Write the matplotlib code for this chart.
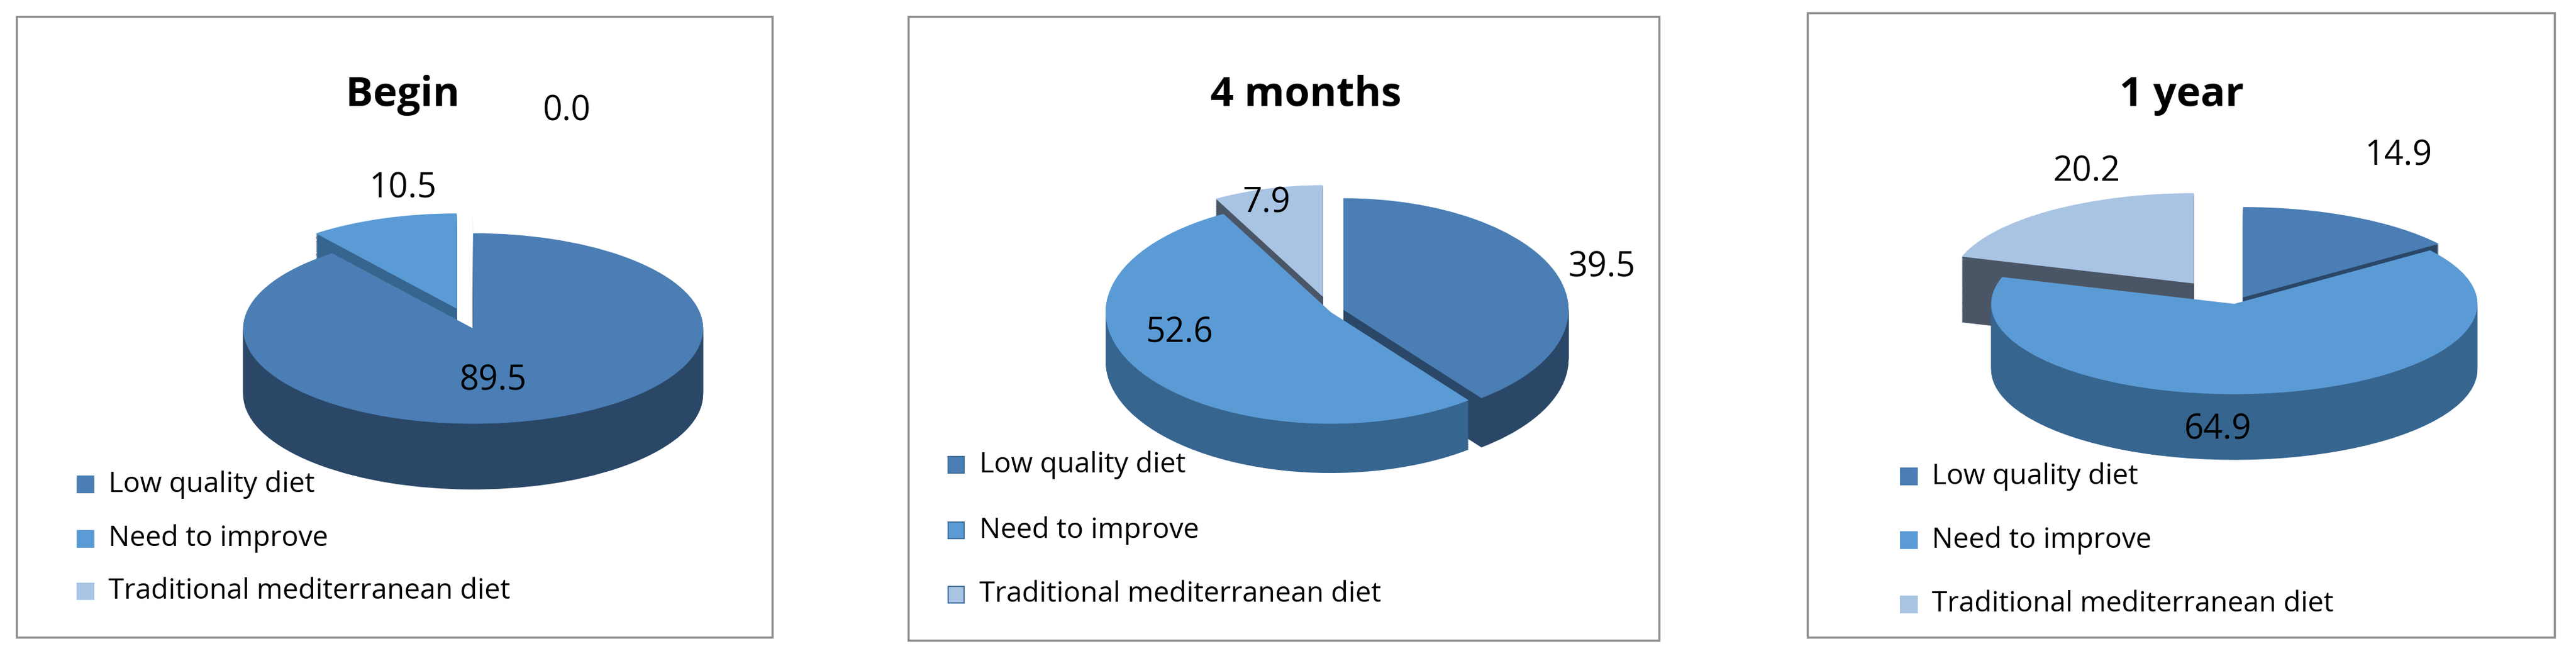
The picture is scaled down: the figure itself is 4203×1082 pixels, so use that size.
import matplotlib
matplotlib.use("Agg")
import matplotlib.pyplot as plt
from matplotlib.transforms import Affine2D
from matplotlib.patches import Rectangle

categories = ["Low quality diet", "Need to improve", "Traditional mediterranean diet"]
titles = ["Begin", "4 months", "1 year"]
values_begin = [89.5, 10.5, 0.0]
values_4m = [39.5, 52.6, 7.9]
values_1y = [14.9, 64.9, 20.2]
all_values = [values_begin, values_4m, values_1y]

top_colors = ["#4A7EB4", "#5B9BD5", "#A9C3E3"]
side_colors = ["#2A4767", "#36658F", "#4A5566"]

S = 4203 / 1568.0
fig = plt.figure(figsize=(42.03, 10.82), dpi=100)
FW, FH = 1568.0, 1082 / S

boxes = [(10, 10, 470, 388), (553, 10, 1010, 390), (1100, 8, 1555, 388)]
pies = [  # cx, cy, rx, ry, depth, explode (fraction of radius)
    (288, 200, 140, 58, 40, [0, 0.22, 0.25]),
    (810, 190, 137, 68, 30, [0.06, 0.0, 0.14]),
    (1360, 185, 148, 55, 40, [0.08, 0.0, 0.28]),
]
label_pos = [
    [(300, 232), (245, 115), (345, 68)],
    [(975, 163), (718, 203), (771, 124)],
    [(1460, 95), (1350, 262), (1270, 105)],
]
title_pos = [(245, 58), (795, 58), (1328, 58)]
legend_pos = [(52, [295, 328, 360]), (582, [283, 323, 362]), (1162, [290, 329, 368])]

ax = fig.add_axes([0, 0, 1, 1])
font = "Open Sans"
for p in range(3):
    l, t, r, b = boxes[p]
    ax.add_patch(Rectangle((l, t), r - l, b - t, fill=False, edgecolor="#8C8C8C", lw=2.5))
    cx, cy, rx, ry, depth, explode = pies[p]
    vals = all_values[p]
    k = ry / rx
    nsteps = 50
    for i in range(nsteps, -1, -1):
        off = depth * i / nsteps
        cols = side_colors if i > 0 else top_colors
        tr = Affine2D().scale(1, -k).translate(cx, cy + off) + ax.transData
        wedges, _ = ax.pie([max(v, 0.0001) for v in vals], colors=cols, startangle=90,
                           counterclock=False, radius=rx, explode=[e * rx for e in explode],
                           center=(0, 0), wedgeprops=dict(linewidth=0))
        for w in wedges:
            w.set_transform(tr)
    for j, v in enumerate(vals):
        x, y = label_pos[p][j]
        ax.text(x, y, f"{v:.1f}", fontsize=40, ha="center", va="center", family=font, color="black")
    ax.text(*title_pos[p], titles[p], fontsize=48, fontweight="bold", ha="center", va="center",
            family=font)
    lx, ys = legend_pos[p]
    for j, c in enumerate(categories):
        ax.add_patch(Rectangle((lx - 5, ys[j] - 5), 10, 10, facecolor=top_colors[j],
                               edgecolor="#41719C" if p == 1 else top_colors[j], lw=1.5))
        ax.text(lx + 14, ys[j], c, fontsize=33, va="center", ha="left", family=font)

ax.set_xlim(0, FW)
ax.set_ylim(FH, 0)
ax.set_aspect("auto")
ax.axis("off")
fig.savefig("out.png", dpi=100)
